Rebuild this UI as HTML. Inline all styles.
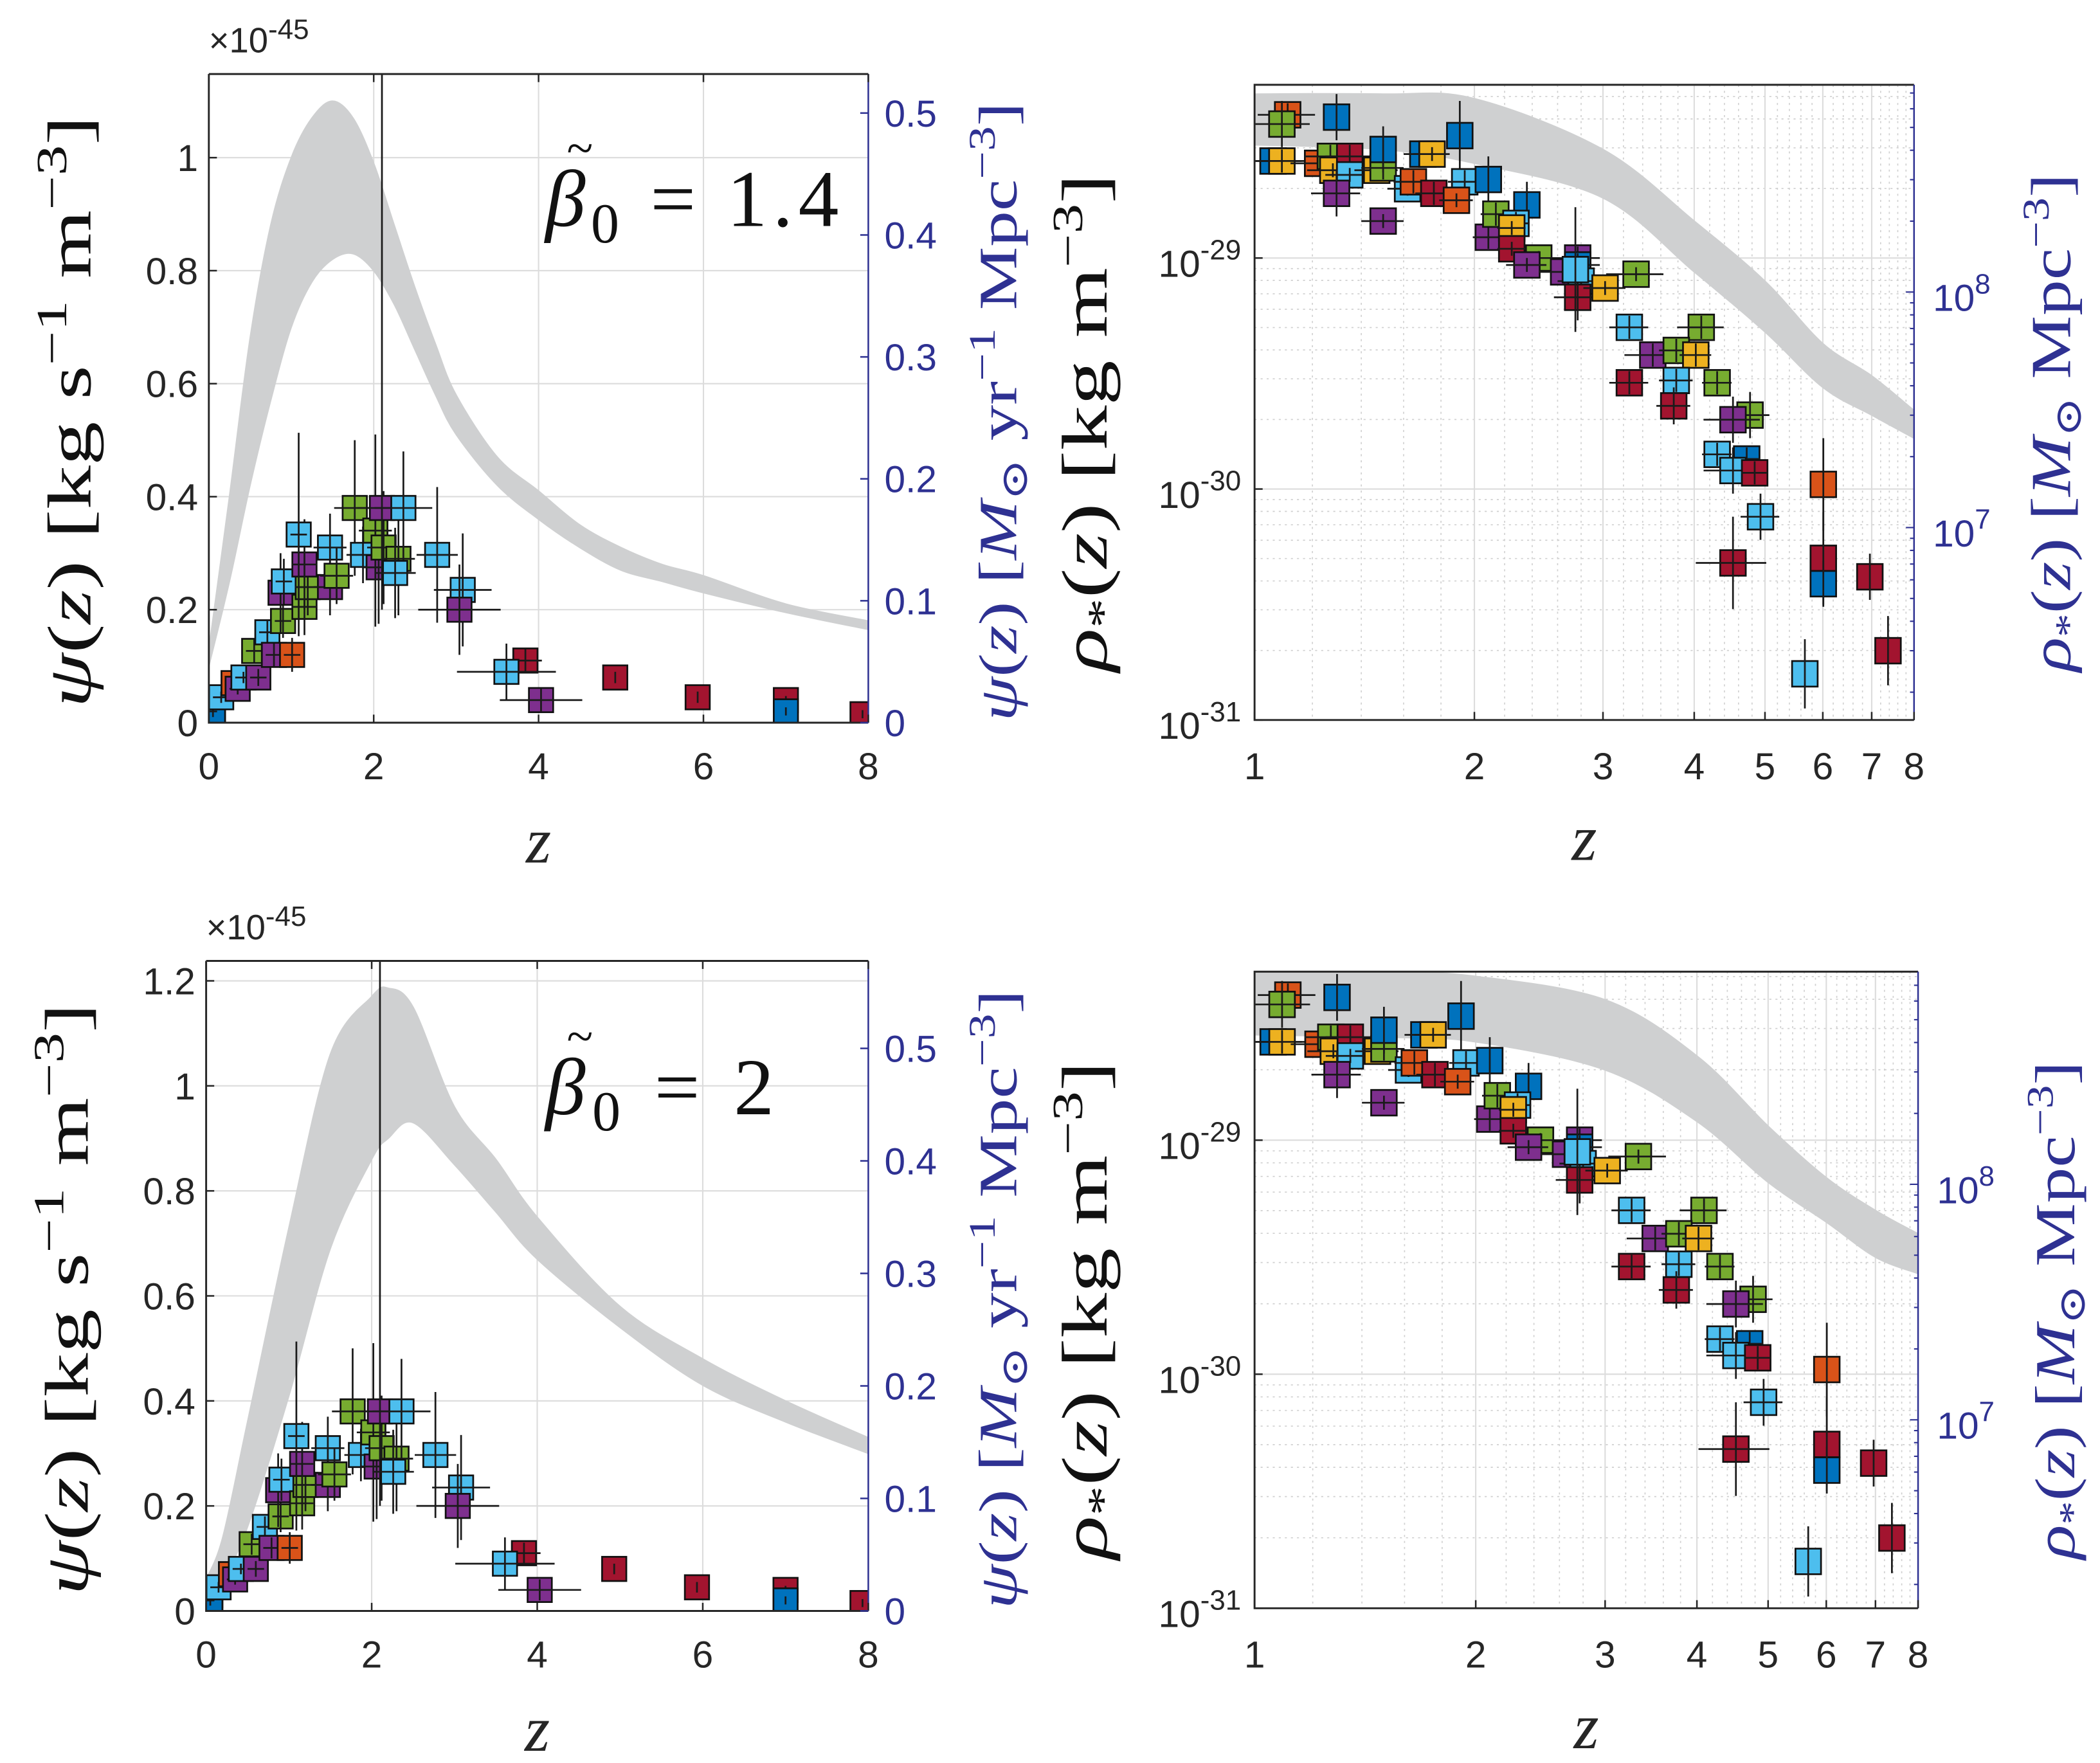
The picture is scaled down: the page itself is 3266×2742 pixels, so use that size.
<!DOCTYPE html>
<html><head><meta charset="utf-8"><style>
html,body{margin:0;padding:0;background:#fff;}
svg{display:block;}
</style></head><body>
<svg id="fig" xmlns="http://www.w3.org/2000/svg" width="3266" height="2742" viewBox="0 0 1560 1310">
<rect x="0" y="0" width="1560" height="1310" fill="#fff"/>
<g id="root"></g>
</svg>
<script>
// ---------- data ----------
const colorKeys = ['G','O','Y','B','L','P','R'];
const colorVals = ['#77ac30','#d95319','#edb120','#0072bd','#4dbeee','#7e2f8e','#a2142f'];

// SFR points (psi in units of 1e-45)
const sfrZ   = [0.05,0.05,0.05,0.15,0.3,0.35,0.42,0.6,0.55,0.71,0.79,1.01,0.9,0.87,0.91,1.16,1.2,1.16,1.09,1.47,1.47,1.55,1.77,1.87,2.06,2.02,2.12,2.3,2.1,2.36,2.26,2.77,3.08,3.04,3.84,3.61,4.03,4.93,5.93,7.0,7.0,7.93];
const sfrPsi = [0.01,0.03,0.02,0.045,0.07,0.06,0.08,0.08,0.127,0.16,0.12,0.12,0.18,0.23,0.25,0.205,0.24,0.28,0.333,0.31,0.24,0.26,0.38,0.297,0.275,0.34,0.31,0.29,0.38,0.38,0.265,0.297,0.235,0.2,0.11,0.09,0.04,0.08,0.045,0.04,0.02,0.015];
const sfrCol = ['Y','O','B','L','O','P','L','P','G','L','P','O','G','P','L','G','G','P','L','L','P','G','G','L','P','G','G','G','P','L','L','L','L','P','R','L','P','R','R','R','B','R'];
const sfrYerrLo= [0,0.01,0.01,0.01,0.01,0.01,0.01,0.015,0.02,0.02,0.02,0.03,0.03,0.07,0.04,0.05,0.05,0.08,0.18,0.06,0.05,0.05,0.12,0.05,0.1,0.17,0.1,0.1,0.18,0.1,0.08,0.12,0.1,0.08,0.02,0.05,0.02,0.01,0.01,0,0.005,0.005];
const sfrYerrHi= [0,0.01,0.01,0.01,0.01,0.01,0.01,0.015,0.02,0.02,0.02,0.03,0.03,0.07,0.04,0.05,0.05,0.08,0.18,0.06,0.05,0.05,0.12,0.05,0.1,0.17,0.1,0.1,0.9,0.1,0.08,0.12,0.1,0.08,0.02,0.05,0.02,0.01,0.01,0,0.005,0.005];
const sfrXerr= [0,0.05,0.05,0.1,0.1,0.1,0.1,0.1,0.1,0.1,0.1,0.1,0.1,0.1,0.1,0.15,0.15,0.15,0.1,0.2,0.2,0.2,0.25,0.2,0.2,0.2,0.2,0.2,0.3,0.35,0.25,0.25,0.35,0.5,0.2,0.6,0.5,0,0,0,0,0];

// Model bands (psi, 1e-45)
const bandAZ  = [0,0.25,0.5,0.75,1,1.25,1.5,1.75,2,2.25,2.5,2.75,3,3.5,4,4.5,5,5.5,6,7,8];
const bandAUp = [0.13,0.4,0.68,0.88,1.0,1.07,1.1,1.07,0.99,0.88,0.77,0.67,0.58,0.47,0.41,0.35,0.31,0.28,0.26,0.21,0.18];
const bandALo = [0.1,0.25,0.42,0.57,0.7,0.78,0.82,0.83,0.8,0.74,0.66,0.58,0.51,0.42,0.36,0.31,0.27,0.25,0.23,0.195,0.165];
const bandBZ  = [0,0.2,0.5,1,1.5,2,2.2,2.5,3,3.5,4,5,6,7,8];
const bandBUp = [0.06,0.14,0.36,0.73,1.06,1.17,1.186,1.15,0.96,0.86,0.75,0.58,0.48,0.40,0.33];
const bandBLo = [0.02,0.06,0.16,0.41,0.69,0.86,0.9,0.93,0.85,0.76,0.67,0.54,0.43,0.36,0.30];

// Stellar mass density points (log10 rho)
const smdZ   = [1.11,1.09,1.295,1.06,1.09,1.22,1.27,1.28,1.35,1.35,1.295,1.47,1.50,1.50,1.50,1.62,1.65,1.76,1.70,1.75,1.91,1.94,1.89,2.09,2.09,2.14,2.36,2.28,2.25,2.25,2.45,2.36,2.77,2.77,2.65,2.8,2.77,3.02,2.75,3.33,3.26,4.09,3.51,3.78,4.02,3.78,3.26,4.3,3.75,4.77,4.52,4.3,4.72,4.52,4.84,6.01,4.93,4.52,6.01,6.01,6.96,7.37,5.67];
const smdLog = [-28.38,-28.42,-28.39,-28.58,-28.58,-28.59,-28.56,-28.62,-28.56,-28.64,-28.72,-28.62,-28.61,-28.53,-28.84,-28.7,-28.67,-28.72,-28.55,-28.55,-28.47,-28.67,-28.75,-28.66,-28.91,-28.81,-28.77,-28.85,-28.87,-28.96,-29.0,-29.03,-29.0,-29.03,-29.06,-29.1,-29.17,-29.13,-29.05,-29.07,-29.30,-29.30,-29.42,-29.40,-29.42,-29.53,-29.54,-29.54,-29.64,-29.68,-29.70,-29.85,-29.87,-29.92,-29.93,-29.98,-30.12,-30.32,-30.30,-30.41,-30.38,-30.70,-30.80];
const smdCol = ['O','G','B','B','Y','O','G','Y','R','L','P','Y','G','B','P','L','O','R','B','Y','B','L','O','B','P','G','B','L','Y','R','G','P','P','B','P','L','R','Y','L','G','L','G','P','G','Y','L','R','G','R','G','P','L','B','L','R','O','L','R','R','B','R','R','L'];
const smdYerr= [0.05,0.1,0.1,0.03,0.05,0.03,0.05,0.03,0.05,0.03,0.1,0.03,0.05,0.1,0.03,0.03,0.05,0.05,0.03,0.03,0.15,0.05,0.03,0.1,0.05,0.05,0.1,0.05,0.03,0.03,0.03,0.03,0.05,0.05,0.05,0.03,0.1,0.03,0.27,0.03,0.05,0.05,0.05,0.05,0.05,0.05,0.05,0.05,0.08,0.1,0.1,0.05,0.05,0.1,0.05,0.2,0.1,0.2,0.2,0.1,0.1,0.15,0.15];
const smdXerr= [0.1,0.1,0,0.1,0.1,0.1,0.1,0.1,0.1,0.1,0.1,0.1,0.1,0,0.1,0.1,0.1,0.1,0.1,0.1,0,0.1,0.1,0,0.1,0.1,0,0.1,0.1,0.1,0.15,0.15,0.2,0.2,0.2,0.2,0.2,0.2,0,0.3,0.2,0.3,0.3,0.2,0.2,0.2,0.2,0.2,0.2,0.3,0.4,0.2,0.2,0.4,0.2,0,0.3,0.5,0,0,0,0,0];

const bandCZ  = [1,1.5,2,3,4,5,6,7,8];
const bandCUp = [-28.29,-28.29,-28.31,-28.53,-28.84,-29.10,-29.37,-29.51,-29.66];
const bandCLo = [-28.51,-28.53,-28.59,-28.74,-29.06,-29.32,-29.56,-29.68,-29.78];
const bandDUp = [-28.28,-28.28,-28.30,-28.40,-28.64,-28.94,-29.16,-29.30,-29.40];
const bandDLo = [-28.55,-28.56,-28.58,-28.70,-28.92,-29.18,-29.35,-29.50,-29.57];

const linTicksX = [0,2,4,6,8];
const linTicksYA = [0,0.2,0.4,0.6,0.8,1];
const linTicksYALabels = ['0','0.2','0.4','0.6','0.8','1'];
const linTicksYB = [0,0.2,0.4,0.6,0.8,1,1.2];
const linTicksYBLabels = ['0','0.2','0.4','0.6','0.8','1','1.2'];
const rightTicks = [0,0.1,0.2,0.3,0.4,0.5];
const rightTickLabels = ['0','0.1','0.2','0.3','0.4','0.5'];
const logTicksX = [1,2,3,4,5,6,7,8];
const logDecades = [-31,-30,-29];
const rightLogDecades = [7,8];

// ---------- drawing ----------
const NS='http://www.w3.org/2000/svg';
const root=document.getElementById('root');
function mk(tag,attrs,parent){const e=document.createElementNS(NS,tag);for(const k in attrs)e.setAttribute(k,attrs[k]);(parent||root).appendChild(e);return e;}
function col(k){return colorVals[colorKeys.indexOf(k)];}
const SANS='"Liberation Sans", sans-serif';
const SERIF='"Liberation Serif", "DejaVu Serif", serif';
const BLUE='#2e3192';
let clipId=0;

// smooth Catmull-Rom path through pixel points (continuing from current point)
function smooth(pts,start){
  let d=start?('M'+pts[0][0].toFixed(2)+','+pts[0][1].toFixed(2)):('L'+pts[0][0].toFixed(2)+','+pts[0][1].toFixed(2));
  for(let i=0;i<pts.length-1;i++){
    const p0=pts[Math.max(0,i-1)],p1=pts[i],p2=pts[i+1],p3=pts[Math.min(pts.length-1,i+2)];
    const c1=[p1[0]+(p2[0]-p0[0])/6,p1[1]+(p2[1]-p0[1])/6];
    const c2=[p2[0]-(p3[0]-p1[0])/6,p2[1]-(p3[1]-p1[1])/6];
    d+='C'+c1[0].toFixed(2)+','+c1[1].toFixed(2)+' '+c2[0].toFixed(2)+','+c2[1].toFixed(2)+' '+p2[0].toFixed(2)+','+p2[1].toFixed(2);
  }
  return d;
}
function bandPath(bz,bu,bl,sx,sy){
  const up=bz.map((z,i)=>[sx(z),sy(bu[i])]);
  const lo=bz.map((z,i)=>[sx(z),sy(bl[i])]).reverse();
  return smooth(up,true)+smooth(lo,false)+'Z';
}

function makePanel(P){
  const g=mk('g',{});
  
  
  const cid='clip'+(clipId++);
  const cp=mk('clipPath',{id:cid},g);
  mk('rect',{x:P.x0,y:P.y0,width:P.x1-P.x0,height:P.y1-P.y0},cp);
  const inner=mk('g',{'clip-path':'url(#'+cid+')'},g);
  return {g,inner};
}

function betaLabel(g,bx,by,beta,len){
  const bt=mk('text',{x:bx,y:by,'font-family':SERIF,'font-size':60,fill:'#111',textLength:len,lengthAdjust:'spacing'},g);
  bt.innerHTML='<tspan font-style="italic">β</tspan><tspan font-size="42" dy="12">0</tspan><tspan dy="-12"> = '+beta+'</tspan>';
  
  
  const tl=mk('text',{x:bx+16,y:by-46,'font-family':SERIF,'font-size':36,fill:'#111'},g);
  tl.textContent='~';
  
  
}

function linPanel(P){
  const {g,inner}=makePanel(P);
  const sx=z=>P.x0+(z-0)/(8-0)*(P.x1-P.x0);
  const sy=v=>P.y1-(v/P.ymax)*(P.y1-P.y0);
  const grid=mk('g',{},inner);
  
  
  linTicksX.forEach(t=>mk('line',{x1:sx(t),x2:sx(t),y1:P.y0,y2:P.y1,stroke:'#dcdcdc','stroke-width':1},grid));
  P.yt.forEach(t=>mk('line',{x1:P.x0,x2:P.x1,y1:sy(t),y2:sy(t),stroke:'#dcdcdc','stroke-width':1},grid));
  const band=mk('path',{d:bandPath(P.bz,P.bu,P.bl,sx,sy),fill:'#cfd0d1',stroke:'#cfd0d1','stroke-width':1,'stroke-linejoin':'round'},inner);
  
  
  sfrZ.forEach((z,i)=>{
    const cx=sx(z),cy=sy(sfrPsi[i]);
    const r=mk('rect',{x:cx-9,y:cy-9,width:18,height:18,fill:col(sfrCol[i]),stroke:'#111','stroke-width':1.3},inner);
    
    
    const eb=mk('path',{d:'M'+cx+','+sy(sfrPsi[i]-sfrYerrLo[i])+'V'+sy(sfrPsi[i]+sfrYerrHi[i])+'M'+sx(z-sfrXerr[i])+','+cy+'H'+sx(z+sfrXerr[i])+'M'+cx+','+(cy-3)+'V'+(cy+3),stroke:'#1a1a1a','stroke-width':1.3,fill:'none'},inner);
    
    
  });
  mk('path',{d:'M'+P.x0+','+P.y0+'H'+P.x1+'M'+P.x0+','+P.y0+'V'+P.y1+'H'+P.x1,stroke:'#262626','stroke-width':1.4,fill:'none'},g);
  mk('line',{x1:P.x1,x2:P.x1,y1:P.y0,y2:P.y1,stroke:BLUE,'stroke-width':1.2},g);
  linTicksX.forEach(t=>{
    mk('line',{x1:sx(t),x2:sx(t),y1:P.y1,y2:P.y1-6,stroke:'#262626','stroke-width':1.2},g);
    mk('line',{x1:sx(t),x2:sx(t),y1:P.y0,y2:P.y0+6,stroke:'#262626','stroke-width':1.2},g);
    const tx=mk('text',{x:sx(t),y:P.y1+42,'font-family':SANS,'font-size':28,fill:'#262626','text-anchor':'middle'},g);
    tx.textContent=String(t);
    
    
  });
  P.yt.forEach((t,i)=>{
    mk('line',{x1:P.x0,x2:P.x0+6,y1:sy(t),y2:sy(t),stroke:'#262626','stroke-width':1.2},g);
    const tx=mk('text',{x:P.x0-8,y:sy(t)+10,'font-family':SANS,'font-size':28,fill:'#262626','text-anchor':'end'},g);
    tx.textContent=P.ytl[i];
    
    
  });
  rightTicks.forEach((t,i)=>{
    const y=P.y1-t*P.rstep*10;
    mk('line',{x1:P.x1,x2:P.x1-6,y1:y,y2:y,stroke:BLUE,'stroke-width':1.2},g);
    const tx=mk('text',{x:P.x1+12,y:y+10,'font-family':SANS,'font-size':28,fill:BLUE},g);
    tx.textContent=rightTickLabels[i];
    
    
  });
  const ex=mk('text',{x:P.x0,y:P.y0-16,'font-family':SANS,'font-size':26,fill:'#262626'},g);
  ex.innerHTML='×10<tspan dy="-10" font-size="21">-45</tspan>';
  
  
  betaLabel(g,P.bx,P.by,P.beta,P.blen);
  const zl=mk('text',{x:(P.x0+P.x1)/2,y:P.y1+104,'font-family':SERIF,'font-style':'italic','font-size':48,fill:'#262626','text-anchor':'middle'},g);
  zl.textContent='z';
  
  
  const cy=(P.y0+P.y1)/2+10;
  const yl=mk('text',{x:0,y:0,transform:'translate('+(P.x0-88)+','+cy+') rotate(-90)','font-family':SERIF,'font-size':46,fill:'#111','text-anchor':'middle',textLength:440,lengthAdjust:'spacingAndGlyphs'},g);
  yl.innerHTML='<tspan font-style="italic">ψ</tspan>(<tspan font-style="italic">z</tspan>)  [kg s<tspan dy="-18" font-size="32">−1</tspan><tspan dy="18"> m</tspan><tspan dy="-18" font-size="32">−3</tspan><tspan dy="18">]</tspan>';
  
  
  const yr=mk('text',{x:0,y:0,transform:'translate('+(P.x1+110)+','+cy+') rotate(-90)','font-family':SERIF,'font-size':40,fill:BLUE,'text-anchor':'middle',textLength:460,lengthAdjust:'spacingAndGlyphs'},g);
  yr.innerHTML='<tspan font-style="italic">ψ</tspan>(<tspan font-style="italic">z</tspan>) [<tspan font-style="italic">M</tspan><tspan font-size="28" dy="8">⊙</tspan><tspan dy="-8"> yr</tspan><tspan dy="-16" font-size="28">−1</tspan><tspan dy="16"> Mpc</tspan><tspan dy="-16" font-size="28">−3</tspan><tspan dy="16">]</tspan>';
  
  
}

function logPanel(P){
  const {g,inner}=makePanel(P);
  const lx0=0,lx1=Math.log10(8);
  const sx=z=>P.x0+(Math.log10(z)-lx0)/(lx1-lx0)*(P.x1-P.x0);
  const sy=L=>P.y1-(L-(-31))/(P.ymax-(-31))*(P.y1-P.y0);
  const grid=mk('g',{},inner);
  
  
  for(let v=1.2;v<8;v+=0.2){ if(Math.abs(v-Math.round(v))<0.01) continue;
    mk('line',{x1:sx(v),x2:sx(v),y1:P.y0,y2:P.y1,stroke:'#d0d0d0','stroke-width':0.8,'stroke-dasharray':'1.5,3'},grid);}
  logDecades.forEach(dd=>{for(let m=2;m<=9;m++){const L=dd+Math.log10(m);
    mk('line',{x1:P.x0,x2:P.x1,y1:sy(L),y2:sy(L),stroke:'#d0d0d0','stroke-width':0.8,'stroke-dasharray':'1.5,3'},grid);}});
  logTicksX.forEach(t=>mk('line',{x1:sx(t),x2:sx(t),y1:P.y0,y2:P.y1,stroke:'#dcdcdc','stroke-width':1},grid));
  logDecades.forEach(t=>mk('line',{x1:P.x0,x2:P.x1,y1:sy(t),y2:sy(t),stroke:'#dcdcdc','stroke-width':1},grid));
  const band=mk('path',{d:bandPath(P.bz,P.bu,P.bl,sx,sy),fill:'#cfd0d1',stroke:'#cfd0d1','stroke-width':1},inner);
  
  
  smdZ.forEach((z,i)=>{
    const cx=sx(z),cy=sy(smdLog[i]);
    const r=mk('rect',{x:cx-9.5,y:cy-9.5,width:19,height:19,fill:col(smdCol[i]),stroke:'#111','stroke-width':1.3},inner);
    
    
    const eb=mk('path',{d:'M'+cx+','+sy(smdLog[i]-smdYerr[i])+'V'+sy(smdLog[i]+smdYerr[i])+'M'+sx(Math.max(1,z-smdXerr[i]))+','+cy+'H'+sx(z+smdXerr[i])+'M'+cx+','+(cy-3)+'V'+(cy+3),stroke:'#1a1a1a','stroke-width':1.3,fill:'none'},inner);
    
    
  });
  mk('path',{d:'M'+P.x1+','+P.y0+'H'+P.x0+'V'+P.y1+'H'+P.x1,stroke:'#262626','stroke-width':1.4,fill:'none'},g);
  mk('line',{x1:P.x1,x2:P.x1,y1:P.y0,y2:P.y1,stroke:BLUE,'stroke-width':1.2},g);
  logTicksX.forEach(t=>{
    mk('line',{x1:sx(t),x2:sx(t),y1:P.y1,y2:P.y1-6,stroke:'#262626','stroke-width':1.2},g);
    const tx=mk('text',{x:sx(t),y:P.y1+44,'font-family':SANS,'font-size':28,fill:'#262626','text-anchor':'middle'},g);
    tx.textContent=String(t);
    
    
  });
  logDecades.forEach(t=>{
    mk('line',{x1:P.x0,x2:P.x0+6,y1:sy(t),y2:sy(t),stroke:'#262626','stroke-width':1.2},g);
    const tx=mk('text',{x:P.x0-10,y:sy(t)+14,'font-family':SANS,'font-size':28,fill:'#262626','text-anchor':'end'},g);
    tx.innerHTML='10<tspan dy="-13" font-size="21">'+t+'</tspan>';
    
    
  });
  const ry=lm=>P.r8-(lm-8)*P.rdec;
  [6,7,8].forEach(dd=>{for(let m=1;m<=9;m++){const y=ry(dd+Math.log10(m)); if(y<P.y0||y>P.y1) continue;
    mk('line',{x1:P.x1,x2:P.x1-(m===1?6:3),y1:y,y2:y,stroke:BLUE,'stroke-width':1},g);}});
  rightLogDecades.forEach(t=>{
    const tx=mk('text',{x:P.x1+14,y:ry(t)+14,'font-family':SANS,'font-size':28,fill:BLUE},g);
    tx.innerHTML='10<tspan dy="-13" font-size="21">'+t+'</tspan>';
    
    
  });
  const zl=mk('text',{x:(P.x0+P.x1)/2,y:P.y1+104,'font-family':SERIF,'font-style':'italic','font-size':48,fill:'#262626','text-anchor':'middle'},g);
  zl.textContent='z';
  
  
  const cy=(P.y0+P.y1)/2+15;
  const yl=mk('text',{x:0,y:0,transform:'translate('+(P.x0-110)+','+cy+') rotate(-90)','font-family':SERIF,'font-size':48,fill:'#111','text-anchor':'middle',textLength:370,lengthAdjust:'spacingAndGlyphs'},g);
  yl.innerHTML='<tspan font-style="italic">ρ</tspan><tspan font-size="32" dy="8">*</tspan><tspan dy="-8">(</tspan><tspan font-style="italic">z</tspan>)  [kg m<tspan dy="-18" font-size="32">−3</tspan><tspan dy="18">]</tspan>';
  
  
  const yr=mk('text',{x:0,y:0,transform:'translate('+(P.x1+116)+','+cy+') rotate(-90)','font-family':SERIF,'font-size':42,fill:BLUE,'text-anchor':'middle',textLength:370,lengthAdjust:'spacingAndGlyphs'},g);
  yr.innerHTML='<tspan font-style="italic">ρ</tspan><tspan font-size="28" dy="8">*</tspan><tspan dy="-8">(</tspan><tspan font-style="italic">z</tspan>) [<tspan font-style="italic">M</tspan><tspan font-size="28" dy="8">⊙</tspan><tspan dy="-8"> Mpc</tspan><tspan dy="-16" font-size="28">−3</tspan><tspan dy="16">]</tspan>';
  
  
}

linPanel({name:'sfr-panel-beta-1-4',x0:155,x1:645,y0:55,y1:537,ymax:1.148,yt:linTicksYA,ytl:linTicksYALabels,rstep:90.6,
  bz:bandAZ,bu:bandAUp,bl:bandALo,beta:'1.4',bx:405,by:168,blen:218});
linPanel({name:'sfr-panel-beta-2',x0:153,x1:645,y0:714,y1:1197,ymax:1.238,yt:linTicksYB,ytl:linTicksYBLabels,rstep:83.6,
  bz:bandBZ,bu:bandBUp,bl:bandBLo,beta:'2',bx:405,by:828,blen:170});
logPanel({name:'smd-panel-beta-1-4',x0:932,x1:1422,y0:63,y1:535,ymax:-28.25,r8:217,rdec:175,
  bz:bandCZ,bu:bandCUp,bl:bandCLo});
logPanel({name:'smd-panel-beta-2',x0:932,x1:1425,y0:722,y1:1195,ymax:-28.28,r8:880,rdec:175,
  bz:bandCZ,bu:bandDUp,bl:bandDLo});
</script>
</body></html>
